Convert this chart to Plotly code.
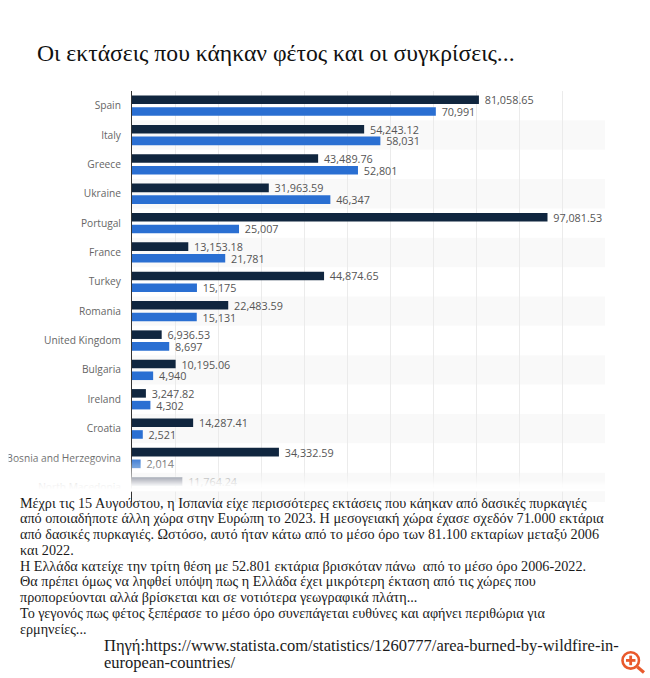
import plotly.graph_objects as go

W, H = 650, 678
countries = ["Spain", "Italy", "Greece", "Ukraine", "Portugal", "France", "Turkey", "Romania",
             "United Kingdom", "Bulgaria", "Ireland", "Croatia", "Bosnia and Herzegovina", "North Macedonia"]
avg_2006_2022 = [81058.65, 54243.12, 43489.76, 31963.59, 97081.53, 13153.18, 44874.65, 22483.59,
                 6936.53, 10195.06, 3247.82, 14287.41, 34332.59, 11764.24]
burned_2023 = [70991, 58031, 52801, 46347, 25007, 21781, 15175, 15131,
               8697, 4940, 4302, 2521, 2014, None]
fmt_avg = [f"\u00a0{v:,.2f}" for v in avg_2006_2022]
fmt_2023 = [f"\u00a0{v:,}" if v is not None else "" for v in burned_2023]

title = "Οι εκτάσεις που κάηκαν φέτος και οι συγκρίσεις..."
body_lines = [
    "Μέχρι τις 15 Αυγούστου, η Ισπανία είχε περισσότερες εκτάσεις που κάηκαν από δασικές πυρκαγιές",
    "από οποιαδήποτε άλλη χώρα στην Ευρώπη το 2023. Η μεσογειακή χώρα έχασε σχεδόν 71.000 εκτάρια",
    "από δασικές πυρκαγιές. Ωστόσο, αυτό ήταν κάτω από το μέσο όρο των 81.100 εκταρίων μεταξύ 2006",
    "και 2022.",
    "Η Ελλάδα κατείχε την τρίτη θέση με 52.801 εκτάρια βρισκόταν πάνω  από το μέσο όρο 2006-2022.",
    "Θα πρέπει όμως να ληφθεί υπόψη πως η Ελλάδα έχει μικρότερη έκταση από τις χώρες που",
    "προπορεύονται αλλά βρίσκεται και σε νοτιότερα γεωγραφικά πλάτη...",
    "Το γεγονός πως φέτος ξεπέρασε το μέσο όρο συνεπάγεται ευθύνες και αφήνει περιθώρια για",
    "ερμηνείες...",
]
source_lines = ["Πηγή:https://www.statista.com/statistics/1260777/area-burned-by-wildfire-in-",
                "european-countries/"]

L, R, T, B = 131.5, 605, 91, 501.7
fx = lambda x: (x - L) / (R - L)
fy = lambda y: (B - y) / (B - T)

fig = go.Figure()
fig.add_bar(y=countries, x=avg_2006_2022, orientation="h", marker=dict(color="#10263f", line_width=0),
            text=fmt_avg, textposition="outside", cliponaxis=False, constraintext="none",
            textfont=dict(family="Open Sans", size=10.8, color="#555555"), name="avg")
fig.add_bar(y=countries, x=burned_2023, orientation="h", marker=dict(color="#2a6fd2", line_width=0),
            text=fmt_2023, textposition="outside", cliponaxis=False, constraintext="none",
            textfont=dict(family="Open Sans", size=10.8, color="#555555"), name="2023")

shapes = []
for i in range(1, len(countries), 2):
    shapes.append(dict(type="rect", xref="x domain", yref="y", x0=0, x1=1, y0=i - .5, y1=i + .5,
                       fillcolor="rgba(0,0,0,0.025)", line_width=0, layer="below"))

# fade of the chart into the white page at the bottom (white opacity reached at each pixel row)
fade_stops = [(456, 0.0), (466, 0.35), (476, 0.6), (485, 0.93), (490, 1.0)]
prev = 0.0
for (y0, t0), (y1, t1) in zip(fade_stops, fade_stops[1:]):
    for y in range(y0, y1):
        target = t0 + (t1 - t0) * (y + 1 - y0) / (y1 - y0)
        a = 1 if target >= 1 else 1 - (1 - target) / (1 - prev)
        prev = target
        shapes.append(dict(type="rect", xref="paper", yref="paper", x0=fx(0), x1=fx(W),
                           y0=fy(y), y1=fy(491),
                           fillcolor=f"rgba(255,255,255,{a:.3f})", line_width=0, layer="above"))
# cropped left edge of the screenshot
shapes.append(dict(type="rect", xref="paper", yref="paper", x0=fx(0), x1=fx(8), y0=fy(90), y1=fy(491),
                   fillcolor="white", line_width=0, layer="above"))
# zoom icon
icon = "#e9592c"
shapes.append(dict(type="circle", xref="paper", yref="paper", x0=fx(622.5), x1=fx(639), y0=fy(651.8), y1=fy(668.2),
                   line=dict(color=icon, width=2.6), fillcolor="rgba(255,255,255,0)", layer="above"))
shapes.append(dict(type="line", xref="paper", yref="paper", x0=fx(637.5), x1=fx(644), y0=fy(666.5), y1=fy(672),
                   line=dict(color=icon, width=3.2), layer="above"))
shapes.append(dict(type="line", xref="paper", yref="paper", x0=fx(626), x1=fx(635.5), y0=fy(660), y1=fy(660),
                   line=dict(color=icon, width=2.8), layer="above"))
shapes.append(dict(type="line", xref="paper", yref="paper", x0=fx(630.7), x1=fx(630.7), y0=fy(655.2), y1=fy(664.8),
                   line=dict(color=icon, width=2.8), layer="above"))

ann = [dict(text=title, x=fx(34), y=fy(53), xref="paper", yref="paper", xanchor="left", yanchor="middle",
            showarrow=False, font=dict(family="Liberation Serif", size=23.65, color="#111111"))]
for s, y in zip(body_lines, [503, 518, 533.5, 550, 566, 581, 597, 613, 628.5]):
    ann.append(dict(text=s, x=fx(17), y=fy(y), xref="paper", yref="paper", xanchor="left", yanchor="middle",
                    showarrow=False, font=dict(family="Liberation Serif", size=14.2, color="#1a1a1a")))
for s, y in zip(source_lines, [645, 662]):
    ann.append(dict(text=s, x=fx(101), y=fy(y), xref="paper", yref="paper", xanchor="left", yanchor="middle",
                    showarrow=False, font=dict(family="Liberation Serif", size=16.5, color="#1a1a1a")))

fig.update_layout(
    width=W, height=H, autosize=False, showlegend=False, paper_bgcolor="white", plot_bgcolor="white",
    margin=dict(l=L, r=W - R, t=T, b=H - B, pad=0),
    barmode="group", bargap=0.2, bargroupgap=0.27,
    shapes=shapes, annotations=ann,
    xaxis=dict(range=[0, 110517], dtick=10047, showticklabels=False, ticks="", showgrid=True, automargin=False,
               gridcolor="#ebebeb", gridwidth=1, zeroline=False, showline=False),
    yaxis=dict(range=[13.5, -0.5], type="category", ticks="", showgrid=False, showline=True, linecolor="#333333",
               linewidth=1, ticklabelstandoff=8, automargin=False,
               tickfont=dict(family="Open Sans", size=10.2, color="#666666")),
)
fig.write_html("out.html", post_script="document.body.style.margin='0';", config=dict(displayModeBar=False))
